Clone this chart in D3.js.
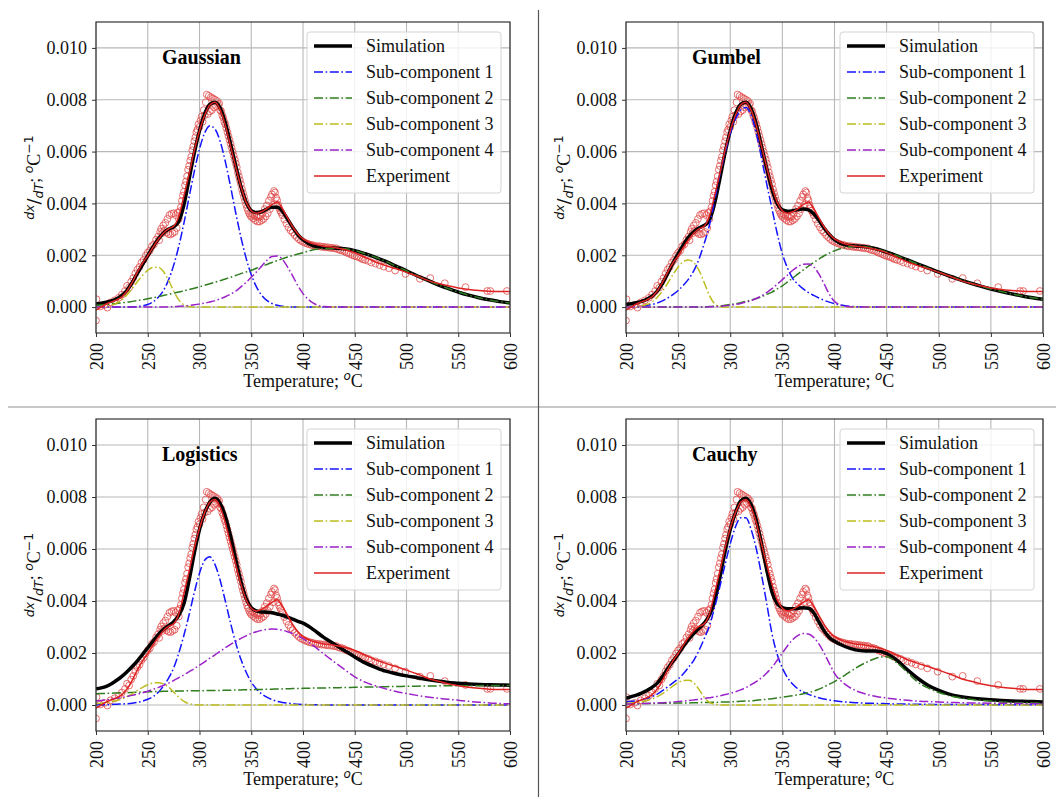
<!DOCTYPE html>
<html lang="en">
<head>
<meta charset="UTF-8">
<title>Deconvolution of dx/dT curves</title>
<script src="https://d3js.org/d3.v7.min.js"></script>
<style>
  body { margin: 0; background: #fff; }
</style>
</head>
<body>
<svg id="chart" width="1056" height="797"></svg>
<script>
// temperature grid of the fitted curves (deg C)
const temps = [200, 205, 210, 215, 220, 225, 230, 235, 240, 245,
  250, 255, 260, 265, 270, 275, 280, 285, 290, 295,
  300, 305, 310, 315, 320, 325, 330, 335, 340, 345,
  350, 355, 360, 365, 370, 375, 380, 385, 390, 395,
  400, 410, 420, 430, 440, 450, 460, 470, 480, 490,
  500, 510, 520, 530, 540, 550, 560, 570, 580, 590, 600];

// all curve values below are in units of 1e-3 per deg C
const experiment = [-0.12, 0.0, 0.12, 0.2, 0.28, 0.4, 0.62, 0.95, 1.35, 1.7,
  1.98, 2.3, 2.6, 2.85, 3.02, 3.12, 3.5, 4.3, 5.15, 6.05,
  6.8, 7.4, 7.8, 7.9, 7.6, 7.0, 6.2, 5.4, 4.65, 4.05,
  3.72, 3.62, 3.68, 3.8, 3.95, 4.05, 3.8, 3.45, 3.1, 2.82,
  2.63, 2.44, 2.35, 2.3, 2.22, 2.1, 1.92, 1.74, 1.6, 1.48,
  1.34, 1.2, 1.04, 0.92, 0.82, 0.74, 0.68, 0.64, 0.61, 0.6, 0.6];

// experimental points [T, value]
const expPoints = [[200, -0.52], [200.5, 0.3], [204, 0.02], [208, 0.08], [211, -0.02], [214, 0.18],
  [218, 0.26], [222, 0.36], [225, 0.48], [228, 0.62], [230, 0.82], [232, 0.75], [234, 0.98],
  [236, 1.12], [238, 1.3], [240, 1.45], [242, 1.55], [244, 1.72], [246, 1.82], [248, 1.98],
  [250, 2.1], [252, 2.18], [254, 2.35], [256, 2.42], [258, 2.6], [260, 2.72], [261, 2.58],
  [262, 2.9], [263, 3.02], [264, 2.85], [265, 3.15], [266, 2.95], [267, 3.25], [268, 2.88],
  [269, 3.4], [270, 2.82], [271, 3.55], [272, 2.8], [273, 3.6], [274, 2.85], [275, 3.62],
  [276, 2.9], [277, 3.55], [278, 3.05], [279, 3.65], [280, 3.4], [281, 3.7], [282, 3.85],
  [283, 4.1], [284, 4.3], [285, 4.45], [286, 4.7], [287, 4.85], [288, 5.05], [289, 5.3],
  [290, 5.45], [291, 5.65], [292, 5.8], [293, 6.05], [294, 6.2], [295, 6.4], [296, 6.55],
  [297, 6.75], [298, 6.85], [299, 7.05], [300, 6.95], [301, 7.2], [302, 7.35], [303, 7.15],
  [304, 7.6], [305, 7.4], [306, 7.9], [307, 8.2], [308, 7.45], [309, 8.15], [310, 7.55],
  [311, 8.1], [312, 7.6], [313, 8.05], [314, 7.7], [315, 8.0], [316, 7.75], [317, 7.95],
  [318, 7.8], [319, 7.85], [320, 7.6], [321, 7.55], [322, 7.4], [323, 7.3], [324, 7.15],
  [325, 7.05], [326, 6.9], [327, 6.75], [328, 6.6], [329, 6.45], [330, 6.3], [331, 6.15],
  [332, 6.0], [333, 5.85], [334, 5.7], [335, 5.55], [336, 5.4], [337, 5.2], [338, 5.05],
  [339, 4.9], [340, 4.75], [341, 4.55], [342, 4.4], [343, 4.25], [344, 4.1], [345, 3.95],
  [346, 3.82], [347, 3.72], [348, 3.62], [349, 3.55], [350, 3.48], [351, 3.6], [352, 3.42],
  [353, 3.55], [354, 3.35], [355, 3.5], [356, 3.3], [357, 3.45], [358, 3.3], [359, 3.5],
  [360, 3.35], [361, 3.62], [362, 3.4], [363, 3.78], [364, 3.5], [365, 3.92], [366, 3.62],
  [367, 4.1], [368, 3.78], [369, 4.25], [370, 4.35], [371, 3.95], [372, 4.48], [373, 4.42],
  [374, 4.22], [375, 4.12], [376, 3.95], [377, 3.82], [378, 3.72], [379, 3.65], [380, 3.55],
  [382, 3.38], [384, 3.22], [386, 3.08], [388, 2.96], [390, 2.88], [392, 2.78], [394, 2.7],
  [396, 2.62], [398, 2.56], [400, 2.52], [402, 2.48], [404, 2.45], [406, 2.42], [408, 2.4],
  [410, 2.38], [412, 2.36], [414, 2.34], [416, 2.35], [418, 2.32], [420, 2.33], [422, 2.3],
  [424, 2.31], [426, 2.28], [428, 2.29], [430, 2.26], [432, 2.27], [434, 2.22], [436, 2.2],
  [438, 2.18], [440, 2.15], [442, 2.1], [444, 2.08], [446, 2.04], [448, 2.0], [450, 1.97],
  [452, 1.95], [454, 1.92], [456, 1.88], [458, 1.84], [460, 1.82], [463, 1.78], [466, 1.72],
  [470, 1.68], [474, 1.62], [478, 1.56], [483, 1.5], [489, 1.41], [499, 1.28], [513, 1.09],
  [523, 1.12], [537, 0.92], [557, 0.77], [578, 0.62], [581, 0.62], [597, 0.62]];

// Gaussian fit
const gaussSim = [0.12, 0.15, 0.19, 0.24, 0.32, 0.45, 0.65, 0.95, 1.3, 1.65,
  1.98, 2.32, 2.62, 2.85, 3.0, 3.1, 3.3, 3.95, 4.95, 5.95,
  6.8, 7.45, 7.82, 7.9, 7.68, 7.1, 6.3, 5.45, 4.65, 4.05,
  3.72, 3.65, 3.68, 3.78, 3.85, 3.85, 3.7, 3.4, 3.08, 2.8,
  2.6, 2.36, 2.3, 2.28, 2.25, 2.18, 2.06, 1.92, 1.76, 1.58,
  1.4, 1.21, 1.04, 0.87, 0.72, 0.58, 0.46, 0.36, 0.28, 0.21, 0.16];
const gaussSub1 = [0, 0, 0, 0, 0, 0, 0, 0.01, 0.02, 0.05,
  0.1, 0.2, 0.37, 0.63, 1.04, 1.61, 2.35, 3.25, 4.25, 5.24,
  6.1, 6.72, 7.0, 6.87, 6.39, 5.6, 4.65, 3.64, 2.7, 1.89,
  1.25, 0.78, 0.46, 0.26, 0.14, 0.07, 0.03, 0.01, 0, 0,
  0, 0, 0, 0, 0, 0, 0, 0, 0, 0,
  0, 0, 0, 0, 0, 0, 0, 0, 0, 0, 0];
const gaussSub2 = [0.07, 0.085, 0.1, 0.12, 0.14, 0.165, 0.19, 0.22, 0.25, 0.285,
  0.32, 0.36, 0.4, 0.445, 0.49, 0.535, 0.58, 0.63, 0.68, 0.73,
  0.78, 0.84, 0.9, 0.96, 1.02, 1.085, 1.15, 1.22, 1.29, 1.355,
  1.42, 1.5, 1.57, 1.645, 1.72, 1.79, 1.86, 1.93, 1.99, 2.05,
  2.1, 2.21, 2.26, 2.27, 2.25, 2.18, 2.06, 1.92, 1.76, 1.58,
  1.4, 1.21, 1.04, 0.87, 0.72, 0.58, 0.46, 0.36, 0.28, 0.21, 0.16];
const gaussSub3 = [0, 0.01, 0.03, 0.07, 0.15, 0.28, 0.48, 0.72, 0.98, 1.23,
  1.42, 1.53, 1.54, 1.38, 1.05, 0.62, 0.28, 0.08, 0.02, 0,
  0, 0, 0, 0, 0, 0, 0, 0, 0, 0,
  0, 0, 0, 0, 0, 0, 0, 0, 0, 0,
  0, 0, 0, 0, 0, 0, 0, 0, 0, 0,
  0, 0, 0, 0, 0, 0, 0, 0, 0, 0, 0];
const gaussSub4 = [0, 0, 0, 0, 0, 0, 0, 0, 0, 0,
  0, 0, 0, 0, 0.01, 0.02, 0.03, 0.04, 0.06, 0.09,
  0.12, 0.15, 0.2, 0.25, 0.32, 0.4, 0.5, 0.62, 0.78, 0.95,
  1.15, 1.35, 1.58, 1.8, 1.95, 1.97, 1.85, 1.55, 1.2, 0.83,
  0.52, 0.15, 0.02, 0, 0, 0, 0, 0, 0, 0,
  0, 0, 0, 0, 0, 0, 0, 0, 0, 0, 0];

// Gumbel fit
const gumbelSim = [0.1, 0.13, 0.17, 0.22, 0.3, 0.42, 0.62, 0.92, 1.3, 1.7,
  2.05, 2.4, 2.7, 2.9, 3.05, 3.15, 3.35, 4.0, 4.95, 5.95,
  6.8, 7.45, 7.82, 7.9, 7.65, 7.05, 6.2, 5.35, 4.55, 4.0,
  3.75, 3.7, 3.72, 3.76, 3.78, 3.75, 3.6, 3.35, 3.05, 2.8,
  2.6, 2.4, 2.36, 2.33, 2.25, 2.12, 1.98, 1.82, 1.66, 1.5,
  1.35, 1.2, 1.06, 0.93, 0.81, 0.7, 0.6, 0.51, 0.43, 0.36, 0.3];
const gumbelSub1 = [0.01, 0.015, 0.02, 0.035, 0.06, 0.1, 0.16, 0.24, 0.35, 0.48,
  0.64, 0.84, 1.08, 1.4, 1.85, 2.45, 3.15, 4.1, 5.1, 5.95,
  6.7, 7.25, 7.6, 7.7, 7.4, 6.7, 5.75, 4.75, 3.8, 2.85,
  2.05, 1.5, 1.1, 0.88, 0.7, 0.56, 0.45, 0.35, 0.26, 0.19,
  0.13, 0.05, 0.02, 0, 0, 0, 0, 0, 0, 0,
  0, 0, 0, 0, 0, 0, 0, 0, 0, 0, 0];
const gumbelSub2 = [0, 0, 0, 0, 0, 0, 0, 0, 0, 0,
  0, 0, 0, 0, 0, 0, 0.02, 0.03, 0.05, 0.07,
  0.1, 0.13, 0.17, 0.22, 0.27, 0.33, 0.4, 0.49, 0.58, 0.7,
  0.82, 0.97, 1.12, 1.28, 1.43, 1.58, 1.72, 1.85, 1.98, 2.08,
  2.17, 2.3, 2.35, 2.33, 2.25, 2.12, 1.98, 1.82, 1.66, 1.5,
  1.35, 1.2, 1.06, 0.93, 0.81, 0.7, 0.6, 0.51, 0.43, 0.36, 0.3];
const gumbelSub3 = [0, 0.01, 0.02, 0.05, 0.1, 0.2, 0.38, 0.62, 0.92, 1.25,
  1.55, 1.75, 1.82, 1.72, 1.42, 0.95, 0.45, 0.13, 0.02, 0,
  0, 0, 0, 0, 0, 0, 0, 0, 0, 0,
  0, 0, 0, 0, 0, 0, 0, 0, 0, 0,
  0, 0, 0, 0, 0, 0, 0, 0, 0, 0,
  0, 0, 0, 0, 0, 0, 0, 0, 0, 0, 0];
const gumbelSub4 = [0, 0, 0, 0, 0, 0, 0, 0, 0, 0,
  0, 0, 0, 0, 0, 0, 0.01, 0.02, 0.03, 0.05,
  0.07, 0.1, 0.14, 0.19, 0.25, 0.33, 0.43, 0.56, 0.71, 0.88,
  1.06, 1.24, 1.42, 1.56, 1.65, 1.66, 1.55, 1.28, 0.9, 0.5,
  0.22, 0.03, 0, 0, 0, 0, 0, 0, 0, 0,
  0, 0, 0, 0, 0, 0, 0, 0, 0, 0, 0];

// Logistic fit
const logisticSim = [0.62, 0.66, 0.72, 0.82, 0.95, 1.1, 1.28, 1.48, 1.7, 1.95,
  2.2, 2.45, 2.7, 2.9, 3.05, 3.2, 3.45, 3.9, 4.8, 5.85,
  6.75, 7.4, 7.8, 7.95, 7.75, 7.25, 6.5, 5.6, 4.75, 4.1,
  3.75, 3.62, 3.58, 3.57, 3.55, 3.5, 3.45, 3.38, 3.3, 3.22,
  3.15, 2.9, 2.6, 2.35, 2.1, 1.85, 1.62, 1.45, 1.3, 1.2,
  1.12, 1.05, 0.98, 0.92, 0.87, 0.84, 0.81, 0.79, 0.78, 0.77, 0.76];
const logisticSub1 = [0.01, 0.01, 0.01, 0.02, 0.03, 0.04, 0.05, 0.07, 0.1, 0.15,
  0.22, 0.32, 0.48, 0.72, 1.02, 1.42, 2.0, 2.69, 3.48, 4.33,
  5.07, 5.57, 5.7, 5.4, 4.79, 3.99, 3.15, 2.39, 1.76, 1.27,
  0.88, 0.62, 0.43, 0.3, 0.21, 0.14, 0.1, 0.07, 0.05, 0.03,
  0.02, 0.01, 0, 0, 0, 0, 0, 0, 0, 0,
  0, 0, 0, 0, 0, 0, 0, 0, 0, 0, 0];
const logisticSub2 = [0.43, 0.44, 0.445, 0.455, 0.46, 0.47, 0.475, 0.485, 0.49, 0.5,
  0.505, 0.515, 0.52, 0.525, 0.53, 0.535, 0.54, 0.543, 0.545, 0.548,
  0.55, 0.553, 0.555, 0.558, 0.56, 0.565, 0.57, 0.575, 0.58, 0.585,
  0.59, 0.595, 0.6, 0.605, 0.61, 0.615, 0.62, 0.625, 0.63, 0.635,
  0.64, 0.65, 0.655, 0.665, 0.67, 0.68, 0.69, 0.695, 0.705, 0.71,
  0.72, 0.725, 0.73, 0.735, 0.74, 0.74, 0.745, 0.745, 0.75, 0.75, 0.75];
const logisticSub3 = [0.05, 0.07, 0.09, 0.12, 0.17, 0.23, 0.32, 0.43, 0.56, 0.68,
  0.78, 0.84, 0.86, 0.82, 0.7, 0.5, 0.3, 0.14, 0.05, 0.02,
  0, 0, 0, 0, 0, 0, 0, 0, 0, 0,
  0, 0, 0, 0, 0, 0, 0, 0, 0, 0,
  0, 0, 0, 0, 0, 0, 0, 0, 0, 0,
  0, 0, 0, 0, 0, 0, 0, 0, 0, 0, 0];
const logisticSub4 = [0.15, 0.17, 0.2, 0.23, 0.26, 0.29, 0.33, 0.37, 0.42, 0.47,
  0.53, 0.6, 0.67, 0.75, 0.84, 0.94, 1.05, 1.16, 1.28, 1.4,
  1.53, 1.66, 1.8, 1.93, 2.07, 2.2, 2.33, 2.45, 2.56, 2.66,
  2.75, 2.82, 2.87, 2.91, 2.92, 2.91, 2.88, 2.82, 2.75, 2.66,
  2.55, 2.28, 1.97, 1.66, 1.37, 1.08, 0.88, 0.74, 0.62, 0.52,
  0.44, 0.37, 0.31, 0.26, 0.22, 0.18, 0.14, 0.11, 0.08, 0.06, 0.04];

// Cauchy fit
const cauchySim = [0.26, 0.32, 0.38, 0.46, 0.56, 0.68, 0.84, 1.1, 1.4, 1.68,
  1.95, 2.25, 2.52, 2.75, 2.95, 3.15, 3.45, 4.0, 4.9, 5.9,
  6.75, 7.4, 7.85, 7.95, 7.7, 7.1, 6.2, 5.2, 4.35, 3.9,
  3.75, 3.7, 3.7, 3.72, 3.74, 3.72, 3.55, 3.2, 2.85, 2.6,
  2.45, 2.25, 2.12, 2.08, 2.08, 1.98, 1.72, 1.35, 1.02, 0.75,
  0.56, 0.42, 0.33, 0.27, 0.23, 0.2, 0.17, 0.15, 0.14, 0.13, 0.12];
const cauchySub1 = [0.12, 0.14, 0.16, 0.2, 0.25, 0.32, 0.42, 0.55, 0.7, 0.85,
  1.0, 1.2, 1.45, 1.72, 2.1, 2.55, 3.05, 3.75, 4.55, 5.4,
  6.2, 6.85, 7.2, 7.2, 6.75, 6.0, 5.0, 3.9, 2.75, 1.95,
  1.42, 1.05, 0.8, 0.62, 0.5, 0.41, 0.34, 0.28, 0.23, 0.19,
  0.16, 0.12, 0.09, 0.07, 0.06, 0.05, 0.04, 0.035, 0.03, 0.025,
  0.02, 0.02, 0.018, 0.016, 0.015, 0.014, 0.013, 0.012, 0.011, 0.01, 0.01];
const cauchySub2 = [0.05, 0.05, 0.05, 0.055, 0.06, 0.06, 0.065, 0.065, 0.07, 0.07,
  0.075, 0.08, 0.08, 0.085, 0.09, 0.095, 0.1, 0.105, 0.11, 0.115,
  0.12, 0.13, 0.14, 0.15, 0.16, 0.18, 0.2, 0.22, 0.24, 0.27,
  0.3, 0.33, 0.36, 0.39, 0.43, 0.48, 0.53, 0.61, 0.7, 0.8,
  0.9, 1.15, 1.41, 1.63, 1.8, 1.86, 1.62, 1.25, 0.88, 0.65,
  0.48, 0.36, 0.28, 0.22, 0.18, 0.15, 0.12, 0.1, 0.09, 0.08, 0.07];
const cauchySub3 = [0.06, 0.08, 0.1, 0.13, 0.17, 0.23, 0.32, 0.44, 0.58, 0.73,
  0.86, 0.94, 0.95, 0.85, 0.6, 0.3, 0.1, 0.03, 0.01, 0,
  0, 0, 0, 0, 0, 0, 0, 0, 0, 0,
  0, 0, 0, 0, 0, 0, 0, 0, 0, 0,
  0, 0, 0, 0, 0, 0, 0, 0, 0, 0,
  0, 0, 0, 0, 0, 0, 0, 0, 0, 0, 0];
const cauchySub4 = [0.04, 0.045, 0.05, 0.055, 0.06, 0.07, 0.08, 0.09, 0.1, 0.115,
  0.13, 0.15, 0.17, 0.195, 0.22, 0.25, 0.28, 0.31, 0.35, 0.4,
  0.45, 0.51, 0.58, 0.67, 0.78, 0.9, 1.05, 1.23, 1.45, 1.72,
  2.0, 2.28, 2.52, 2.68, 2.75, 2.73, 2.6, 2.35, 2.0, 1.6,
  1.22, 0.8, 0.56, 0.42, 0.33, 0.27, 0.22, 0.18, 0.15, 0.13,
  0.12, 0.1, 0.09, 0.08, 0.075, 0.07, 0.065, 0.06, 0.055, 0.05, 0.05];

const xTicks = [200, 250, 300, 350, 400, 450, 500, 550, 600];
const yTicks = [0, 0.002, 0.004, 0.006, 0.008, 0.010];
const legendLabels = ["Simulation", "Sub-component 1", "Sub-component 2",
  "Sub-component 3", "Sub-component 4", "Experiment"];

const panels = [
  { title: "Gaussian", left: 96, right: 510, top: 22, bottom: 333,
    sim: gaussSim, subs: [gaussSub1, gaussSub2, gaussSub3, gaussSub4] },
  { title: "Gumbel", left: 626, right: 1043, top: 22, bottom: 333,
    sim: gumbelSim, subs: [gumbelSub1, gumbelSub2, gumbelSub3, gumbelSub4] },
  { title: "Logistics", left: 96, right: 510, top: 419, bottom: 731,
    sim: logisticSim, subs: [logisticSub1, logisticSub2, logisticSub3, logisticSub4] },
  { title: "Cauchy", left: 626, right: 1043, top: 419, bottom: 731,
    sim: cauchySim, subs: [cauchySub1, cauchySub2, cauchySub3, cauchySub4] }
];

const serif = "'Liberation Serif', 'Times New Roman', serif";
const mathFont = "'DejaVu Sans', sans-serif";
const subColors = ["#1414ff", "#2f7d1f", "#bdbd1f", "#9b22c8"];
const expColor = "#dd2222";
const dashDot = "9,2.6,1.6,2.6";
const MILLI = 0.001;

const svg = d3.select("#chart");
svg.append("rect").attr("width", 1056).attr("height", 797).attr("fill", "#fff");

// panel separators
svg.append("line").attr("x1", 8).attr("x2", 1056).attr("y1", 407).attr("y2", 407)
  .attr("stroke", "#c8c8c8").attr("stroke-width", 2);
svg.append("line").attr("x1", 538.5).attr("x2", 538.5).attr("y1", 10).attr("y2", 797)
  .attr("stroke", "#555").attr("stroke-width", 1.2);

function drawPanel(p, idx) {
  const w = p.right - p.left, h = p.bottom - p.top;
  const g = svg.append("g").attr("transform", `translate(${p.left},${p.top})`);
  const x = d3.scaleLinear().domain([200, 600]).range([0, w]);
  const y = d3.scaleLinear().domain([-0.001, 0.011]).range([h, 0]);

  g.append("clipPath").attr("id", "clip" + idx)
    .append("rect").attr("width", w).attr("height", h);

  // grid
  g.append("g").selectAll("line").data(xTicks).join("line")
    .attr("x1", d => x(d)).attr("x2", d => x(d)).attr("y1", 0).attr("y2", h)
    .attr("stroke", "#b8b8b8").attr("stroke-width", 1.1);
  g.append("g").selectAll("line").data(yTicks).join("line")
    .attr("x1", 0).attr("x2", w).attr("y1", d => y(d)).attr("y2", d => y(d))
    .attr("stroke", "#b8b8b8").attr("stroke-width", 1.1);

  const plot = g.append("g").attr("clip-path", `url(#clip${idx})`);
  const line = d3.line()
    .x((d, i) => x(temps[i]))
    .y(d => y(d * MILLI))
    .curve(d3.curveMonotoneX);

  plot.append("g").selectAll("circle").data(expPoints).join("circle")
    .attr("cx", d => x(d[0])).attr("cy", d => y(d[1] * MILLI)).attr("r", 3.4)
    .attr("fill", "none").attr("stroke", "#e04646").attr("stroke-width", 0.9)
    .attr("stroke-opacity", 0.85);

  plot.append("path").attr("d", line(p.sim)).attr("fill", "none")
    .attr("stroke", "#000").attr("stroke-width", 3.5);

  p.subs.forEach((s, k) => {
    plot.append("path").attr("d", line(s)).attr("fill", "none")
      .attr("stroke", subColors[k]).attr("stroke-width", 1.5)
      .attr("stroke-dasharray", dashDot);
  });

  plot.append("path").attr("d", line(experiment)).attr("fill", "none")
    .attr("stroke", expColor).attr("stroke-width", 1.5);

  // axes
  const yAxis = g.append("g")
    .call(d3.axisLeft(y).tickValues(yTicks).tickFormat(d3.format(".3f")).tickSize(4).tickPadding(5));
  yAxis.select(".domain").remove();
  yAxis.selectAll("line").attr("stroke", "#333");
  yAxis.selectAll("text").attr("font-family", serif).attr("font-size", 18).attr("fill", "#111");

  const xAxis = g.append("g").attr("transform", `translate(0,${h})`)
    .call(d3.axisBottom(x).tickValues(xTicks).tickSize(4));
  xAxis.select(".domain").remove();
  xAxis.selectAll("line").attr("stroke", "#333");
  xAxis.selectAll("text")
    .attr("transform", "rotate(-90)")
    .attr("text-anchor", "end")
    .attr("x", -10).attr("y", 0).attr("dy", "0.35em")
    .attr("font-family", serif).attr("font-size", 18).attr("fill", "#111");

  g.append("rect").attr("width", w).attr("height", h)
    .attr("fill", "none").attr("stroke", "#333").attr("stroke-width", 1.2);

  // title
  g.append("text").attr("x", 66).attr("y", 42)
    .attr("font-family", serif).attr("font-size", 20).attr("font-weight", "bold")
    .text(p.title);

  // x label
  const xl = g.append("text").attr("x", w / 2).attr("y", h + 54)
    .attr("text-anchor", "middle").attr("font-family", serif).attr("font-size", 18).attr("fill", "#111");
  xl.append("tspan").text("Temperature; ");
  xl.append("tspan").attr("font-family", mathFont).attr("font-style", "italic")
    .attr("font-size", 12).attr("dy", -7).text("o");
  xl.append("tspan").attr("dy", 7).text("C");

  // y label
  const yl = g.append("text").attr("transform", `translate(-56,${h / 2}) rotate(-90)`)
    .attr("text-anchor", "middle").attr("font-family", serif).attr("font-size", 18).attr("fill", "#111");
  yl.append("tspan").attr("font-family", mathFont).attr("font-style", "italic")
    .attr("font-size", 12.5).attr("dy", -6).text("dx");
  yl.append("tspan").attr("font-family", mathFont).attr("dy", 6).text("/");
  yl.append("tspan").attr("font-family", mathFont).attr("font-style", "italic")
    .attr("font-size", 12.5).attr("dy", 3).text("dT");
  yl.append("tspan").attr("dy", -3).text("; ");
  yl.append("tspan").attr("font-family", mathFont).attr("font-style", "italic")
    .attr("font-size", 12.5).attr("dy", -7).text("o");
  yl.append("tspan").attr("dy", 7).text("C");
  yl.append("tspan").attr("font-family", mathFont)
    .attr("font-size", 12.5).attr("dy", -7).text("\u22121");

  // legend
  const lw = 194, lh = 161;
  const lg = g.append("g").attr("transform", `translate(${w - 9 - lw},10)`);
  lg.append("rect").attr("width", lw).attr("height", lh).attr("rx", 3)
    .attr("fill", "#fff").attr("fill-opacity", 0.8)
    .attr("stroke", "#d4d4d4").attr("stroke-width", 1);
  legendLabels.forEach((lab, i) => {
    const cy = 14 + i * 26;
    const ln = lg.append("line").attr("x1", 7).attr("x2", 45).attr("y1", cy).attr("y2", cy);
    if (i === 0) {
      ln.attr("stroke", "#000").attr("stroke-width", 3.5);
    } else if (i === 5) {
      ln.attr("stroke", expColor).attr("stroke-width", 1.5);
    } else {
      ln.attr("stroke", subColors[i - 1]).attr("stroke-width", 1.5).attr("stroke-dasharray", dashDot);
    }
    lg.append("text").attr("x", 59).attr("y", cy).attr("dy", "0.35em")
      .attr("font-family", serif).attr("font-size", 18).attr("fill", "#111")
      .text(lab);
  });
}

panels.forEach(drawPanel);
</script>
</body>
</html>
